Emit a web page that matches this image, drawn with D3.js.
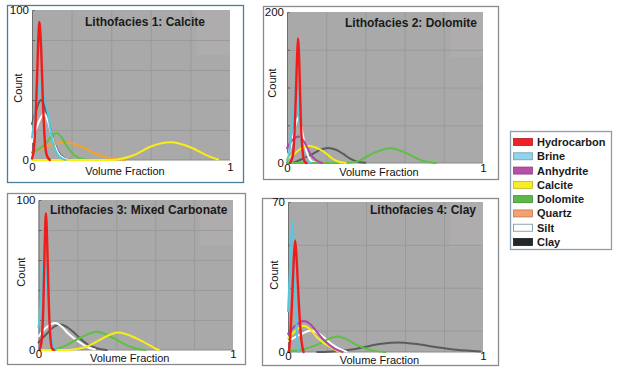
<!DOCTYPE html>
<html><head><meta charset="utf-8">
<script src="https://cdn.jsdelivr.net/npm/d3@7"></script>
<style>
body{margin:0;background:#fff;}
svg{display:block;font-family:"Liberation Sans",Arial,sans-serif;}
</style></head><body>
<svg id="c" width="620" height="376"></svg>
<script>
// ---------- DATA ----------
const seriesNames = ["Hydrocarbon","Brine","Anhydrite","Calcite","Dolomite","Quartz","Silt","Clay"];
const panelTitles = ["Lithofacies 1: Calcite","Lithofacies 2: Dolomite","Lithofacies 3: Mixed Carbonate","Lithofacies 4: Clay"];
const yMaxValues = [100, 200, 100, 70];
const yGridValues = [[20,40,60,80],[50,100,150],[20,40,60,80],[10,30,50]];
const xTickValues = [0, 1];
const xGridValues = [0.2,0.4,0.6,0.8];
const xLabel = "Volume Fraction";
const yLabel = "Count";

// [volume fraction, count]
const facies1 = {
  Clay:       [[0,24],[0.02,33],[0.045,40],[0.07,33],[0.1,17],[0.13,6],[0.16,1.5],[0.2,0]],
  Silt:       [[0,12],[0.03,24],[0.062,31],[0.08,26],[0.1,16],[0.13,5],[0.16,1],[0.19,0]],
  Quartz:     [[0,5],[0.05,8],[0.1,10.5],[0.17,11.5],[0.24,9.5],[0.3,5.5],[0.35,2.8],[0.4,1],[0.47,0]],
  Dolomite:   [[0,5],[0.03,7],[0.066,10.5],[0.1,16],[0.125,18],[0.15,15],[0.183,8],[0.22,2.5],[0.26,0.5],[0.3,0]],
  Calcite:    [[0,0],[0.4,0],[0.45,0.8],[0.51,3],[0.6,9],[0.7,11.8],[0.8,8.5],[0.88,3.3],[0.94,0.3]],
  Brine:      [[0,15],[0.02,35],[0.04,50],[0.06,42],[0.08,31],[0.1,15],[0.12,6],[0.14,2],[0.17,0]],
  Hydrocarbon:[[0,1],[0.01,8],[0.02,32],[0.03,74],[0.037,92],[0.045,78],[0.055,40],[0.065,12],[0.075,3],[0.09,0]]
};
const facies2 = {
  Dolomite:   [[0,0],[0.3,0],[0.35,1.5],[0.372,3.5],[0.44,13],[0.526,19.5],[0.61,13],[0.68,4],[0.72,1.2],[0.76,0]],
  Clay:       [[0,0],[0.03,0.5],[0.066,4],[0.1,8],[0.134,12.5],[0.17,17.5],[0.21,20],[0.25,17.5],[0.287,12],[0.32,6],[0.355,2],[0.4,0.3]],
  Calcite:    [[0,5],[0.03,10.5],[0.07,19],[0.117,22.5],[0.16,19],[0.2,12.5],[0.23,6],[0.26,2],[0.3,0]],
  Anhydrite:  [[0,20],[0.03,31],[0.06,35],[0.085,29],[0.1,22],[0.12,12],[0.135,7],[0.16,2],[0.18,0]],
  Silt:       [[0,8],[0.024,25],[0.045,52],[0.06,61],[0.075,45],[0.09,25],[0.11,8],[0.135,1],[0.16,0]],
  Brine:      [[0,3],[0.015,20],[0.03,65],[0.047,103],[0.06,65],[0.07,35],[0.083,13],[0.1,2],[0.12,0]],
  Hydrocarbon:[[0.015,0],[0.03,10],[0.04,50],[0.05,130],[0.056,165],[0.063,130],[0.07,60],[0.08,15],[0.09,2],[0.1,0]]
};
const facies3 = {
  Calcite:    [[0,0],[0.15,0],[0.2,0.8],[0.247,2.2],[0.315,6.8],[0.41,11.6],[0.503,7.8],[0.57,3.3],[0.6,1],[0.62,0]],
  Dolomite:   [[0,0],[0.05,0.2],[0.1,1],[0.145,3.3],[0.213,8],[0.3,12.2],[0.384,8],[0.452,3.3],[0.5,1],[0.55,0]],
  Clay:       [[0,5],[0.04,10.5],[0.08,15.5],[0.115,17],[0.15,15],[0.187,11],[0.22,7],[0.25,4],[0.3,1.2],[0.35,0]],
  Silt:       [[0,9],[0.04,15],[0.085,18],[0.12,15.5],[0.145,12],[0.18,8],[0.213,5],[0.25,2],[0.29,0.3]],
  Brine:      [[0,15],[0.01,30],[0.02,50],[0.03,60],[0.04,50],[0.05,32],[0.062,12],[0.075,2.5],[0.09,0]],
  Hydrocarbon:[[0.005,0],[0.015,5],[0.025,30],[0.032,70],[0.038,91],[0.045,70],[0.052,35],[0.06,10],[0.07,1],[0.08,0]]
};
const facies4 = {
  Clay:       [[0.15,0],[0.25,0.4],[0.318,1],[0.4,2.5],[0.48,3.8],[0.566,4.4],[0.65,3.8],[0.745,2.5],[0.865,1],[0.985,0.2]],
  Dolomite:   [[0,0.3],[0.06,0.8],[0.1,1.8],[0.147,3.3],[0.2,5.8],[0.253,7.2],[0.3,6],[0.352,3.3],[0.42,1],[0.5,0]],
  Silt:       [[0,5],[0.06,8],[0.12,10],[0.16,8.5],[0.2,5.5],[0.23,3.3],[0.26,1.7],[0.3,0.2]],
  Calcite:    [[0,6.5],[0.04,10],[0.079,12.3],[0.115,10.5],[0.147,7],[0.18,4.5],[0.215,2.5],[0.25,0.6],[0.28,0]],
  Anhydrite:  [[0,8.5],[0.04,12.5],[0.08,14.5],[0.115,13],[0.147,9.5],[0.19,5],[0.24,1.5],[0.28,0]],
  Hydrocarbon:[[0.005,0],[0.01,5],[0.02,22],[0.03,44],[0.037,52],[0.045,42],[0.056,22],[0.068,6],[0.08,0]],
  Brine:      [[0,19],[0.008,35],[0.016,52],[0.024,61],[0.032,40],[0.04,18],[0.048,5],[0.055,0]]
};
const faciesData = [facies1, facies2, facies3, facies4];

// ---------- STYLE / LAYOUT ----------
const curveColor = {Hydrocarbon:"#f01c1c",Brine:"#55c8e0",Anhydrite:"#b545a5",Calcite:"#f8ee14",
  Dolomite:"#5cc040",Quartz:"#f5a228",Silt:"#ffffff",Clay:"#5a5c5c"};
const swatchColor = {Hydrocarbon:"#ee2228",Brine:"#8fd4ea",Anhydrite:"#b850a8",Calcite:"#f6ee22",
  Dolomite:"#5cb84a",Quartz:"#f5a070",Silt:"#ffffff",Clay:"#23272a"};
const layout = [
  {frame:[7,5,243,182], plot:[32,10,230,160], frameColor:"#4f7d98", title:[85,22], count:[18,88], xlab:171},
  {frame:[263,6,498,179], plot:[287,12,483,163], frameColor:"#8a8a8a", title:[345,23], count:[272,83], xlab:172},
  {frame:[7,193,245,364], plot:[38.5,200,233,350], frameColor:"#8a8a8a", title:[50,210], count:[21,272], xlab:358},
  {frame:[262,198,498,365], plot:[288,202,483,352], frameColor:"#8a8a8a", title:[370,210], count:[274,275], xlab:360}
];

const svg = d3.select("#c");

layout.forEach((L, i) => {
  const [fx0, fy0, fx1, fy1] = L.frame;
  svg.append("rect").attr("x", fx0+0.5).attr("y", fy0+0.5).attr("width", fx1-fx0).attr("height", fy1-fy0)
    .attr("fill", "#fff").attr("stroke", L.frameColor).attr("stroke-width", 1.3);
  const [px0, py0, px1, py1] = L.plot;
  const x = d3.scaleLinear().domain([0,1]).range([px0, px1]);
  const y = d3.scaleLinear().domain([0, yMaxValues[i]]).range([py1, py0]);
  const g = svg.append("g");
  g.append("rect").attr("x", px0).attr("y", py0).attr("width", px1-px0).attr("height", py1-py0).attr("fill", "#a9a9a9");
  // subtle lighter patch (top-right)
  g.append("rect").attr("x", x(0.83)).attr("y", py0).attr("width", x(1)-x(0.83)).attr("height", (py1-py0)*0.3)
    .attr("fill", "#aeacac");
  // grid
  g.append("g").attr("transform", `translate(0,${py1})`)
    .call(d3.axisBottom(x).tickValues(xGridValues).tickSize(-(py1-py0)).tickFormat(""))
    .call(a => { a.select(".domain").remove(); a.selectAll("line").attr("stroke", "#979797").attr("stroke-width", 0.8); });
  g.append("g").attr("transform", `translate(${px0},0)`)
    .call(d3.axisLeft(y).tickValues(yGridValues[i]).tickSize(-(px1-px0)).tickFormat(""))
    .call(a => { a.select(".domain").remove(); a.selectAll("line").attr("stroke", "#979797").attr("stroke-width", 0.8); });
  // left axis ticks
  g.append("g").attr("transform", `translate(${px0},0)`)
    .call(d3.axisRight(y).tickValues(yGridValues[i]).tickSize(3).tickFormat(""))
    .call(a => { a.select(".domain").attr("stroke", "#707070"); a.selectAll("line").attr("stroke", "#606060"); });
  g.append("line").attr("x1", px0).attr("x2", px1).attr("y1", py1).attr("y2", py1).attr("stroke", "#8a8a8a");
  // curves
  const line = d3.line().x(d => x(d[0])).y(d => y(d[1])).curve(d3.curveMonotoneX);
  const data = faciesData[i];
  const order = ["Clay","Silt","Quartz","Dolomite","Calcite","Anhydrite","Brine","Hydrocarbon"];
  order.forEach(name => {
    if (!data[name]) return;
    g.append("path").datum(data[name]).attr("d", line).attr("fill", "none")
      .attr("stroke", curveColor[name]).attr("stroke-width", name === "Hydrocarbon" ? 2.4 : 2)
      .attr("stroke-linejoin", "round").attr("stroke-linecap", "round");
  });
  // axis labels
  const yAx = g.append("g").attr("transform", `translate(${px0-2},0)`)
    .call(d3.axisLeft(y).tickValues([0, yMaxValues[i]]).tickSize(0).tickPadding(1).tickFormat(d3.format("d")));
  yAx.select(".domain").remove();
  yAx.selectAll("text").attr("font-size", 11.5).attr("fill", "#111").attr("font-family", "Liberation Sans, Arial, sans-serif");
  const xAx = g.append("g").attr("transform", `translate(0,${L.xlab-8})`)
    .call(d3.axisBottom(x).tickValues(xTickValues).tickSize(0).tickPadding(0).tickFormat(d3.format("d")));
  xAx.select(".domain").remove();
  xAx.selectAll("text").attr("font-size", 11.5).attr("fill", "#111").attr("font-family", "Liberation Sans, Arial, sans-serif");
  svg.append("text").attr("x", (px0+px1)/2 - 6).attr("y", L.xlab).attr("dy", "0.35em").attr("text-anchor", "middle")
    .attr("font-size", 11).attr("fill", "#111").text(xLabel);
  svg.append("text").attr("transform", `translate(${L.count[0]},${L.count[1]}) rotate(-90)`).attr("dy", "0.35em")
    .attr("text-anchor", "middle").attr("font-size", 11).attr("fill", "#111").text(yLabel);
  svg.append("text").attr("x", L.title[0]).attr("y", L.title[1]).attr("dy", "0.35em")
    .attr("font-size", 12).attr("font-weight", "bold").attr("fill", "#1a1a1a").text(panelTitles[i]);
});

// legend
const lg = svg.append("g");
lg.append("rect").attr("x", 510.5).attr("y", 131.5).attr("width", 101).attr("height", 118)
  .attr("fill", "#fff").attr("stroke", "#8aa0b0").attr("stroke-width", 1.3);
const ly = d3.scalePoint().domain(seriesNames).range([142, 242]);
seriesNames.forEach(n => {
  lg.append("rect").attr("x", 513.5).attr("y", ly(n)-3.5).attr("width", 19).attr("height", 7)
    .attr("fill", swatchColor[n]).attr("stroke", n === "Silt" ? "#6f8fa0" : d3.color(swatchColor[n]).darker(0.8)).attr("stroke-width", 0.8);
  lg.append("text").attr("x", 537).attr("y", ly(n)).attr("dy", "0.36em").attr("font-size", 11)
    .attr("font-weight", "bold").attr("fill", "#1a1a1a").text(n);
});
</script></body></html>
